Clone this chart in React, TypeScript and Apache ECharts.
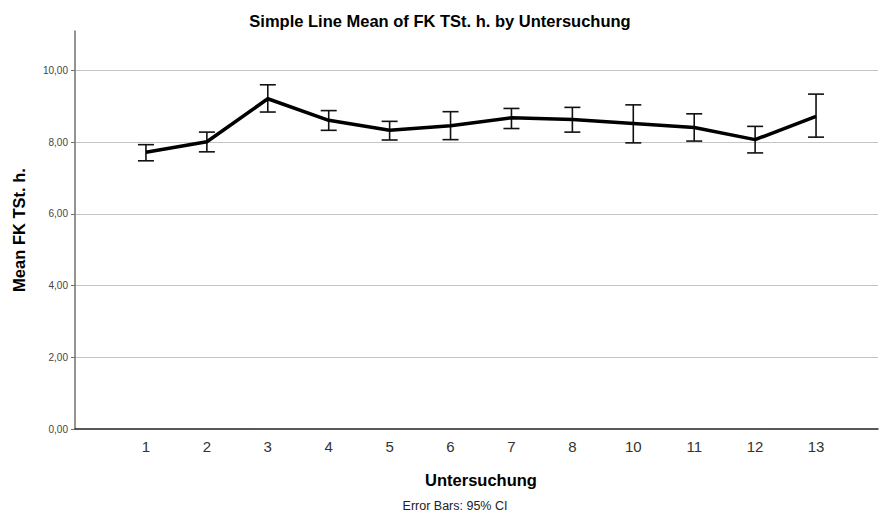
import React, { useEffect, useRef } from "react";
import * as echarts from "echarts";

const categories = ["1", "2", "3", "4", "5", "6", "7", "8", "10", "11", "12", "13"];
const means = [7.72, 8.01, 9.21, 8.61, 8.33, 8.46, 8.68, 8.63, 8.52, 8.41, 8.07, 8.72];
const ciLow = [7.48, 7.73, 8.84, 8.33, 8.06, 8.07, 8.38, 8.28, 7.98, 8.03, 7.7, 8.14];
const ciHigh = [7.93, 8.28, 9.6, 8.88, 8.58, 8.85, 8.94, 8.97, 9.04, 8.79, 8.44, 9.34];
const yTicks = [0, 2, 4, 6, 8, 10];
const yMax = 11.1;

const FONT = "'Liberation Sans', Arial, sans-serif";

export default function App() {
  const ref = useRef<HTMLDivElement>(null);
  useEffect(() => {
    if (!ref.current) return;
    const chart = echarts.init(ref.current, undefined, { renderer: "svg" });
    const errData = categories.map((_, i) => [i, ciLow[i], ciHigh[i]]);
    chart.setOption({
      animation: false,
      backgroundColor: "#fff",
      textStyle: { fontFamily: FONT },
      title: {
        text: "Simple Line Mean of FK TSt. h. by Untersuchung",
        left: "center",
        top: 7,
        textStyle: { fontFamily: FONT, fontSize: 16.5, fontWeight: "bold", color: "#000" },
      },
      graphic: [
        {
          type: "text",
          x: 455,
          y: 506,
          style: {
            text: "Error Bars: 95% CI",
            fontFamily: FONT,
            fontSize: 12.5,
            fill: "#222",
            align: "center",
            verticalAlign: "middle",
          },
        },
      ],
      grid: [
        { left: 75, right: 2, top: 31, bottom: 95 },
        { left: 115.5, right: 33.5, top: 31, bottom: 95 },
      ],
      xAxis: [
        {
          gridIndex: 0,
          type: "value",
          min: 0,
          max: 1,
          axisLine: { show: true, lineStyle: { color: "#222", width: 1.5 } },
          axisTick: { show: false },
          axisLabel: { show: false },
          splitLine: { show: false },
        },
        {
          gridIndex: 1,
          type: "category",
          data: categories,
          boundaryGap: true,
          axisLine: { show: false },
          axisTick: { show: false },
          axisLabel: { fontFamily: FONT, fontSize: 15, color: "#333", margin: 10 },
          name: "Untersuchung",
          nameLocation: "middle",
          nameGap: 42,
          nameTextStyle: { fontFamily: FONT, fontSize: 16.5, fontWeight: "bold", color: "#000" },
        },
      ],
      yAxis: [
        {
          gridIndex: 0,
          type: "value",
          min: 0,
          max: yMax,
          interval: 2,
          axisLine: { show: true, lineStyle: { color: "#707070", width: 1.5 } },
          axisTick: { show: true, length: 4, lineStyle: { color: "#707070" }, customValues: yTicks },
          axisLabel: {
            customValues: yTicks,
            fontFamily: FONT,
            fontSize: 10,
            color: "#444",
            margin: 7,
            formatter: (v: number) => v.toFixed(2).replace(".", ","),
          },
          splitLine: { show: true, showMinLine: false, lineStyle: { color: "#c4c4c4", width: 1 } },
          name: "Mean FK TSt. h.",
          nameLocation: "middle",
          nameGap: 48,
          nameTextStyle: { fontFamily: FONT, fontSize: 16.5, fontWeight: "bold", color: "#000" },
        },
        {
          gridIndex: 1,
          type: "value",
          min: 0,
          max: yMax,
          show: false,
          splitLine: { show: false },
        },
      ],
      series: [
        {
          type: "custom",
          xAxisIndex: 1,
          yAxisIndex: 1,
          data: errData,
          z: 3,
          renderItem: (params: any, api: any) => {
            const x = api.value(0);
            const lo = api.coord([x, api.value(1)]);
            const hi = api.coord([x, api.value(2)]);
            const hw = 8;
            const style = { stroke: "#111", lineWidth: 1.6 };
            return {
              type: "group",
              children: [
                { type: "line", shape: { x1: lo[0], y1: lo[1], x2: hi[0], y2: hi[1] }, style },
                { type: "line", shape: { x1: lo[0] - hw, y1: lo[1], x2: lo[0] + hw, y2: lo[1] }, style },
                { type: "line", shape: { x1: hi[0] - hw, y1: hi[1], x2: hi[0] + hw, y2: hi[1] }, style },
              ],
            };
          },
        },
        {
          type: "line",
          xAxisIndex: 1,
          yAxisIndex: 1,
          data: means,
          symbol: "none",
          z: 4,
          lineStyle: { color: "#000", width: 3.5 },
        },
      ],
    });
    return () => chart.dispose();
  }, []);
  return (
    <div
      ref={ref}
      style={{ position: "absolute", left: 0, top: 0, width: 880, height: 524 }}
    />
  );
}
